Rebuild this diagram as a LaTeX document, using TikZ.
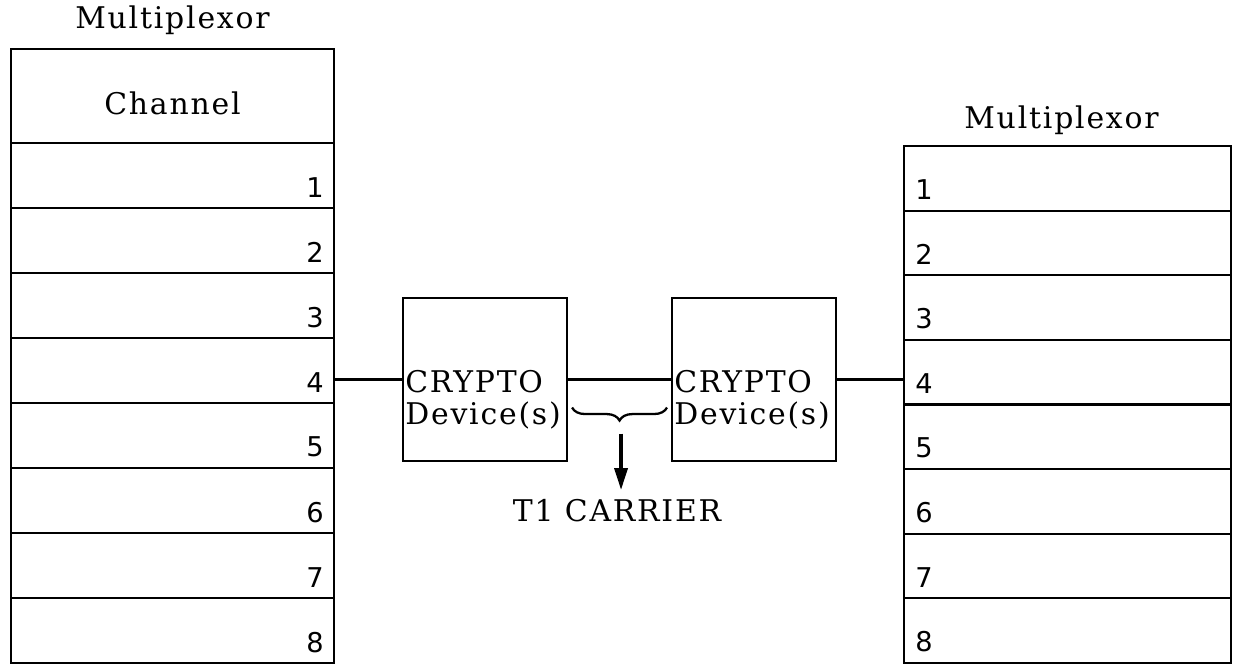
\documentclass[tikz,border=0pt]{standalone}
\usepackage{fontspec}
\setmainfont{DejaVu Serif}[LetterSpace=6]
\setsansfont{DejaVu Sans}
\usetikzlibrary{arrows.meta, positioning, calc, decorations.pathreplacing}

\begin{document}
\begin{tikzpicture}[
    x=0.02cm, y=-0.02cm,
    lrow/.style={rectangle, draw, line width=1.2pt, minimum width=6.46cm, minimum height=1.3cm, anchor=north west, inner sep=0pt},
    rrow/.style={rectangle, draw, line width=1.2pt, minimum width=6.54cm, minimum height=1.292cm, anchor=north west, inner sep=0pt},
    cryptobox/.style={rectangle, draw, line width=1.2pt, minimum width=3.28cm, minimum height=3.26cm, anchor=north west, inner sep=0pt},
    lbl/.style={font=\fontsize{17}{18.2}\selectfont, inner sep=0pt, align=left},
    digit/.style={font=\fontsize{15.5}{18}\selectfont\sffamily, inner sep=0pt},
    wire/.style={line width=1.2pt},
    arrowln/.style={-{Triangle[length=0.44cm, width=0.26cm]}, line width=2pt}
]
\useasboundingbox (0,0) rectangle (1238,664);

% Left multiplexor
\node[lrow, minimum height=1.88cm] (Lhead) at (10,48) {};
\node[lbl, anchor=base] (lmux) at ($(Lhead.north)+(0,-20)$) {Multiplexor};
\node[lbl, anchor=base] (chan) at ($(Lhead.south)+(0,-30)$) {Channel};
\foreach \i in {1,...,8} {
    \node[lrow] (L\i) at (10, {142+65*(\i-1)}) {};
    \node[digit, anchor=east] at ($(L\i.south east)+(-11,-22)$) {\i};
}

% Right multiplexor
\foreach \i in {1,...,8} {
    \node[rrow] (R\i) at (903, {145+64.6*(\i-1)}) {};
    \node[digit, anchor=west] at ($(R\i.south west)+(12,-22)$) {\i};
}
\node[lbl, anchor=base] (rmux) at ($(R1.north)+(-6,-17)$) {Multiplexor};

% Crypto devices
\node[cryptobox] (c1) at (402,297) {};
\node[cryptobox] (c2) at (671,297) {};
\node[lbl, anchor=west] at ($(c1.west)+(3,20)$) {CRYPTO\\Device(s)};
\node[lbl, anchor=west] at ($(c2.west)+(3,20)$) {CRYPTO\\Device(s)};

% Links
\draw[wire] (c1.west) -- (c1.west -| L4.east);
\draw[wire] (c1.east) -- (c2.west);
\draw[wire] (c2.east) -- (c2.east -| R4.west);

% Carrier
\draw[line width=1.3pt, decorate, decoration={brace, amplitude=0.26cm}]
    ($(c2.west)+(-4,28)$) -- ($(c1.east)+(4,28)$);
\coordinate (tip) at ($(c1.east)!0.5!(c2.west)+(1.5,54)$);
\node[lbl, anchor=base] (carrier) at ($(tip)+(-4,88)$) {T1 CARRIER};
\draw[arrowln] (tip) -- ($(tip |- carrier.north)+(0,-9)$);

\end{tikzpicture}
\end{document}
